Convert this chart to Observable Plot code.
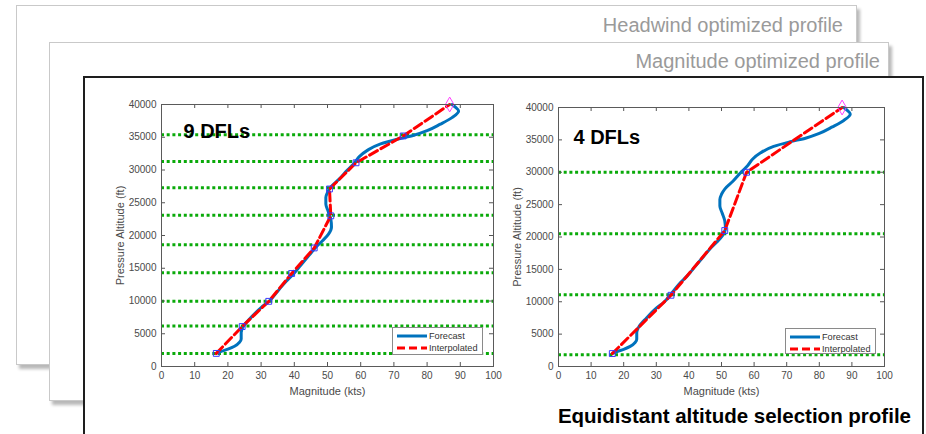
<!DOCTYPE html>
<html>
<head>
<meta charset="utf-8">
<script src="https://cdn.jsdelivr.net/npm/d3@7"></script>
<script src="https://cdn.jsdelivr.net/npm/@observablehq/plot@0.6"></script>
<style>
  html, body { margin: 0; padding: 0; background: #fff; }
  body { width: 926px; height: 434px; position: relative; overflow: hidden; font-family: "Liberation Sans", Arial, sans-serif; }
  .slide { position: absolute; box-sizing: border-box; background: #fff; }
  .back { border: 1px solid #c9c9c9; box-shadow: 3px 4px 3px rgba(0,0,0,0.28); }
  .stitle { position: absolute; font-size: 20px; line-height: 20px; color: #9a9a9a; white-space: nowrap; }
  .chart { position: absolute; }
  .legend { position: absolute; box-sizing: border-box; border: 1px solid #8a8a8a; background: #fff; }
</style>
</head>
<body>
<div class="slide back" style="left:16px; top:5px; width:841px; height:360px; z-index:1;"></div>
<div class="stitle" style="right:83px; top:15px; z-index:2;">Headwind optimized profile</div>
<div class="slide back" style="left:49px; top:42px; width:840px; height:359px; z-index:3;"></div>
<div class="stitle" style="right:46px; top:51px; z-index:4;">Magnitude optimized profile</div>
<div class="slide" style="left:83px; top:76px; width:841px; height:400px; border:2px solid #1e1e1e; z-index:5;"></div>
<div class="stitle" style="right:15px; top:405px; z-index:9; color:#000; font-weight:bold; font-size:20.5px; line-height:21px;">Equidistant altitude selection profile</div>
<div id="left" class="chart" style="left:111px; top:94px; z-index:6;"></div>
<div id="right" class="chart" style="left:508px; top:97px; z-index:6;"></div>
<script>
// ---- data ----
const xTicks = [0, 10, 20, 30, 40, 50, 60, 70, 80, 90, 100];
const yTicks = [0, 5000, 10000, 15000, 20000, 25000, 30000, 35000, 40000];

// forecast wind magnitude profile (kts) vs pressure altitude (ft)
const forecastMag = [16.5, 18, 20, 22, 23.5, 24, 24, 24.5, 27, 30, 32.5, 35, 37.5, 39.5, 42, 44.5, 46.5, 48.5, 50.3, 51.2, 51, 50.2, 49.5, 49.5, 50, 51, 53.5, 56, 58, 59.5, 62, 66, 71, 76, 80, 84, 87.5, 89.5, 88.5, 87.5];
const forecastAlt = [2000, 2300, 2650, 3100, 3700, 4200, 5200, 6000, 7500, 9000, 10000, 11500, 13000, 14000, 15500, 17000, 18200, 19200, 20200, 21300, 22500, 23700, 24800, 25800, 26600, 27400, 28600, 30000, 31000, 32000, 33000, 34000, 34700, 35300, 36000, 37000, 38000, 39000, 39600, 40000];

// 9 DFLs (left)
const dflLeft = [2000, 6200, 9950, 14300, 18600, 23100, 27300, 31300, 35400];
const interpLeftMag = [16.5, 24.3, 32.3, 39.2, 46, 51, 50.6, 58.6, 72.8, 86.8];
const interpLeftAlt = [2000, 6100, 9950, 14200, 18100, 23000, 27100, 31100, 35200, 40000];

// 4 DFLs (right)
const dflRight = [1800, 11100, 20500, 30000];
const interpRightMag = [16.5, 34.5, 51, 57.7, 87];
const interpRightAlt = [2000, 11000, 21000, 30000, 40000];

const seriesNames = ["Forecast", "Interpolated"];
const seriesColors = ["#0072BD", "#ff0000"];

// ---- build ----
const forecast = forecastMag.map((m, i) => ({mag: m, alt: forecastAlt[i]}));

function makeChart({dfl, iMag, iAlt, frameW, frameH, label, labelDx, labelDy}) {
  const mL = 50, mT = 10, mR = 12, mB = 38;
  const interp = iMag.map((m, i) => ({mag: m, alt: iAlt[i]}));
  const squares = interp.slice(0, -1);
  const top = interp.slice(-1);
  const tk = 4;
  return Plot.plot({
    width: mL + frameW + mR,
    height: mT + frameH + mB,
    marginLeft: mL, marginTop: mT, marginRight: mR, marginBottom: mB,
    x: {domain: [0, 100]},
    y: {domain: [0, 40000]},
    style: {fontFamily: "'Liberation Sans', Arial, sans-serif", fontSize: "10px", color: "#4a4a4a", background: "transparent", overflow: "visible"},
    marks: [
      Plot.ruleY(dfl, {stroke: "#0aaa0a", strokeWidth: 3, strokeDasharray: "3,2.7"}),
      Plot.line(forecast, {x: "mag", y: "alt", stroke: seriesColors[0], strokeWidth: 3, curve: "monotone-y"}),
      Plot.line(interp, {x: "mag", y: "alt", stroke: seriesColors[1], strokeWidth: 3, strokeDasharray: "9,4"}),
      Plot.dot(squares, {x: "mag", y: "alt", symbol: "square", r: 3.3, stroke: "#3a3aff", strokeWidth: 1, fill: "none"}),
      Plot.dot(top, {x: "mag", y: "alt", symbol: "diamond", r: 4.5, stroke: "#ff40ff", strokeWidth: 1, fill: "none"}),
      // inward ticks on all four sides
      Plot.ruleX(xTicks, {stroke: "#555", insetTop: frameH - tk}),
      Plot.ruleX(xTicks, {stroke: "#555", insetBottom: frameH - tk}),
      Plot.ruleY(yTicks, {stroke: "#555", insetRight: frameW - tk}),
      Plot.ruleY(yTicks, {stroke: "#555", insetLeft: frameW - tk}),
      Plot.frame({stroke: "#5a5a5a", strokeWidth: 1}),
      Plot.axisX(xTicks, {anchor: "bottom", tickSize: 0, tickPadding: 5, label: null, tickFormat: d => String(d)}),
      Plot.axisY(yTicks, {anchor: "left", tickSize: 0, tickPadding: 5, label: null, tickFormat: d => String(d)}),
      Plot.text(["Magnitude (kts)"], {frameAnchor: "bottom", dy: 25, fontSize: 11, fill: "#4a4a4a", lineAnchor: "middle"}),
      Plot.text(["Pressure Altitude (ft)"], {frameAnchor: "left", dx: -41, rotate: -90, fontSize: 11, fill: "#4a4a4a", textAnchor: "middle", lineAnchor: "middle"}),
      Plot.text([label], {frameAnchor: "top-left", dx: labelDx, dy: labelDy, textAnchor: "start", lineAnchor: "top", fontSize: 20, fontWeight: "bold", fill: "#000"})
    ]
  });
}

function makeLegend({left, top, w, h}) {
  const div = document.createElement("div");
  div.className = "legend";
  div.style.left = left + "px";
  div.style.top = top + "px";
  div.style.width = w + "px";
  div.style.height = h + "px";
  div.style.zIndex = 8;
  const ns = "http://www.w3.org/2000/svg";
  const svg = document.createElementNS(ns, "svg");
  svg.setAttribute("width", w - 2);
  svg.setAttribute("height", h - 2);
  svg.style.display = "block";
  seriesNames.forEach((name, i) => {
    const y = 8 + i * 12;
    const ln = document.createElementNS(ns, "line");
    ln.setAttribute("x1", 4); ln.setAttribute("x2", 34);
    ln.setAttribute("y1", y); ln.setAttribute("y2", y);
    ln.setAttribute("stroke", seriesColors[i]);
    ln.setAttribute("stroke-width", 3);
    if (i === 1) ln.setAttribute("stroke-dasharray", "8,4");
    svg.appendChild(ln);
    const t = document.createElementNS(ns, "text");
    t.setAttribute("x", 36); t.setAttribute("y", y + 3.3);
    t.setAttribute("font-size", "9.2");
    t.setAttribute("font-family", "'Liberation Sans', Arial, sans-serif");
    t.setAttribute("fill", "#333");
    t.textContent = name;
    svg.appendChild(t);
  });
  div.appendChild(svg);
  document.body.appendChild(div);
}

document.getElementById("left").appendChild(makeChart({dfl: dflLeft, iMag: interpLeftMag, iAlt: interpLeftAlt, frameW: 332, frameH: 262, label: "9 DFLs", labelDx: 22, labelDy: 19}));
document.getElementById("right").appendChild(makeChart({dfl: dflRight, iMag: interpRightMag, iAlt: interpRightAlt, frameW: 326, frameH: 259, label: "4 DFLs", labelDx: 15, labelDy: 22}));

makeLegend({left: 392, top: 327, w: 91, h: 28});
makeLegend({left: 785, top: 328, w: 91, h: 26});
</script>
</body>
</html>
